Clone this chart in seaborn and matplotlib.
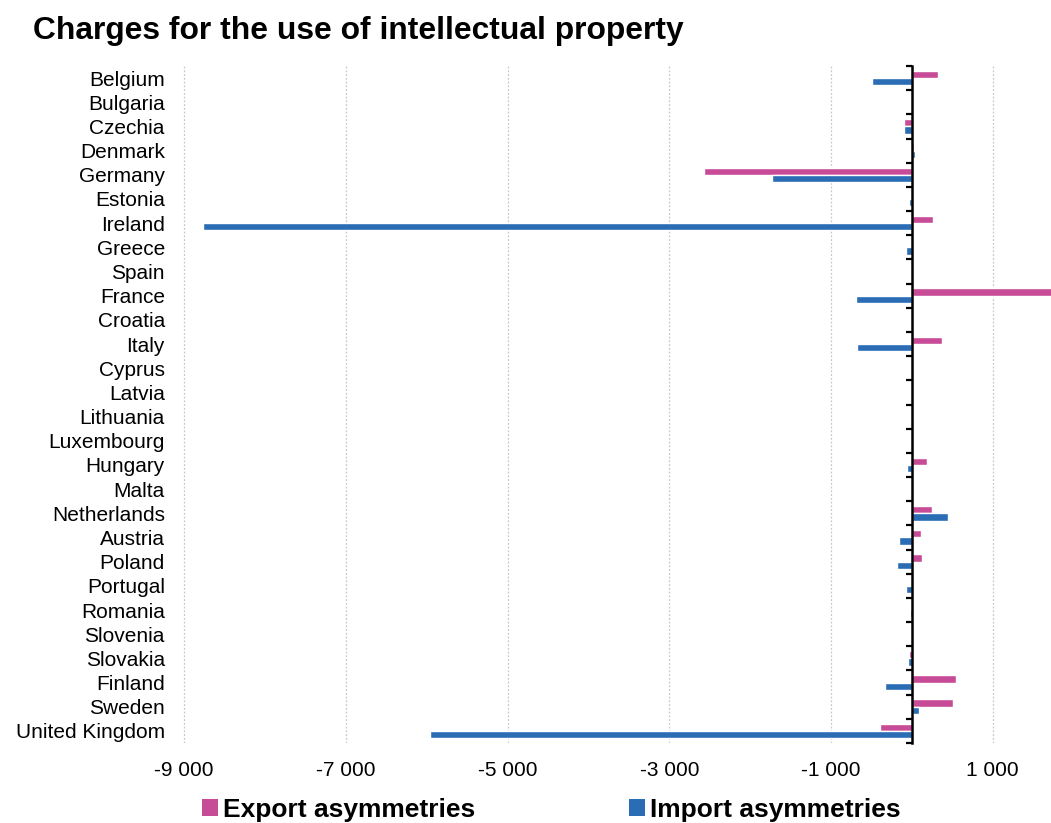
import matplotlib
matplotlib.use("Agg")
import matplotlib.pyplot as plt
import matplotlib.ticker as mticker
from matplotlib.patches import Patch
import numpy as np
import pandas as pd
import seaborn as sns

# Data (million EUR)
countries = ["Belgium", "Bulgaria", "Czechia", "Denmark", "Germany", "Estonia",
             "Ireland", "Greece", "Spain", "France", "Croatia", "Italy", "Cyprus",
             "Latvia", "Lithuania", "Luxembourg", "Hungary", "Malta", "Netherlands",
             "Austria", "Poland", "Portugal", "Romania", "Slovenia", "Slovakia",
             "Finland", "Sweden", "United Kingdom"]
export_asym = [328, np.nan, -93, 20, -2566, np.nan, 258, np.nan, np.nan, 1740,
               np.nan, 370, np.nan, np.nan, np.nan, np.nan, 184, np.nan, 246,
               110, 130, np.nan, np.nan, np.nan, -35, 550, 513, -390]
import_asym = [-488, np.nan, -100, 40, -1733, -30, -8767, -68, np.nan, -694,
               np.nan, -678, np.nan, np.nan, np.nan, np.nan, -59, np.nan, 444,
               -155, -187, -76, -22, np.nan, -47, -331, 93, -5960]
series_names = ["Export asymmetries", "Import asymmetries"]
x_ticks = [-9000, -7000, -5000, -3000, -1000, 1000]

PINK = "#C84B97"
BLUE = "#2A6DB5"

df = pd.DataFrame({
    "country": countries * 2,
    "value": export_asym + import_asym,
    "flow": [series_names[0]] * len(countries) + [series_names[1]] * len(countries),
})

sns.set_style("white")
plt.rcParams["font.family"] = ["Liberation Sans", "DejaVu Sans"]
plt.rcParams["text.color"] = "black"

fig = plt.figure(figsize=(10.51, 8.23), dpi=100)
ax = fig.add_axes([0.1713, 0.0972, 0.8287, 0.8226])

sns.barplot(data=df, y="country", x="value", hue="flow", order=countries,
            hue_order=series_names, palette=[PINK, BLUE], orient="h",
            width=0.6, saturation=1, legend=False, ax=ax)

ax.set_xlim(-9050, 1720)
ax.set_ylim(len(countries) - 0.5, -0.5)
ax.set_xlabel("")
ax.set_ylabel("")

# x axis: thousands with a space separator, dotted vertical grid
ax.xaxis.set_major_locator(mticker.FixedLocator(x_ticks))
ax.xaxis.set_major_formatter(mticker.FuncFormatter(
    lambda v, _: f"{int(v):,}".replace(",", " ")))
ax.grid(axis="x", color="#C8C8C8", linestyle=(0, (1.5, 1.5)), linewidth=0.9)
ax.grid(axis="y", visible=False)
ax.set_axisbelow(True)
ax.tick_params(axis="x", length=0, labelsize=15, pad=13, colors="black")

# y axis: category names at the left, axis line drawn at zero
ax.tick_params(axis="y", which="major", length=0, labelsize=15, pad=11,
               colors="black")
ax.yaxis.set_minor_locator(mticker.FixedLocator(np.arange(-0.5, len(countries), 1.0)))
ax.tick_params(axis="y", which="minor", left=False, right=True, direction="in",
               length=4.5, width=1.6, color="black")

for side in ["top", "bottom", "left"]:
    ax.spines[side].set_visible(False)
ax.spines["right"].set_position(("data", 0))
ax.spines["right"].set_color("black")
ax.spines["right"].set_linewidth(1.8)
ax.spines["right"].set_zorder(5)

fig.text(0.031, 0.962, "Charges for the use of intellectual property",
         fontsize=22.9, fontweight="bold", ha="left", va="center", color="black")

handles = [Patch(facecolor=PINK, edgecolor="none"), Patch(facecolor=BLUE, edgecolor="none")]
fig.legend(handles, series_names, loc="center", bbox_to_anchor=(0.5247, 0.016),
           ncol=2, frameon=False, handlelength=0.6, handleheight=0.58,
           handletextpad=0.2, columnspacing=5.8, labelcolor="black",
           prop={"weight": "bold", "size": 19})

fig.savefig("out.png", dpi=100)
